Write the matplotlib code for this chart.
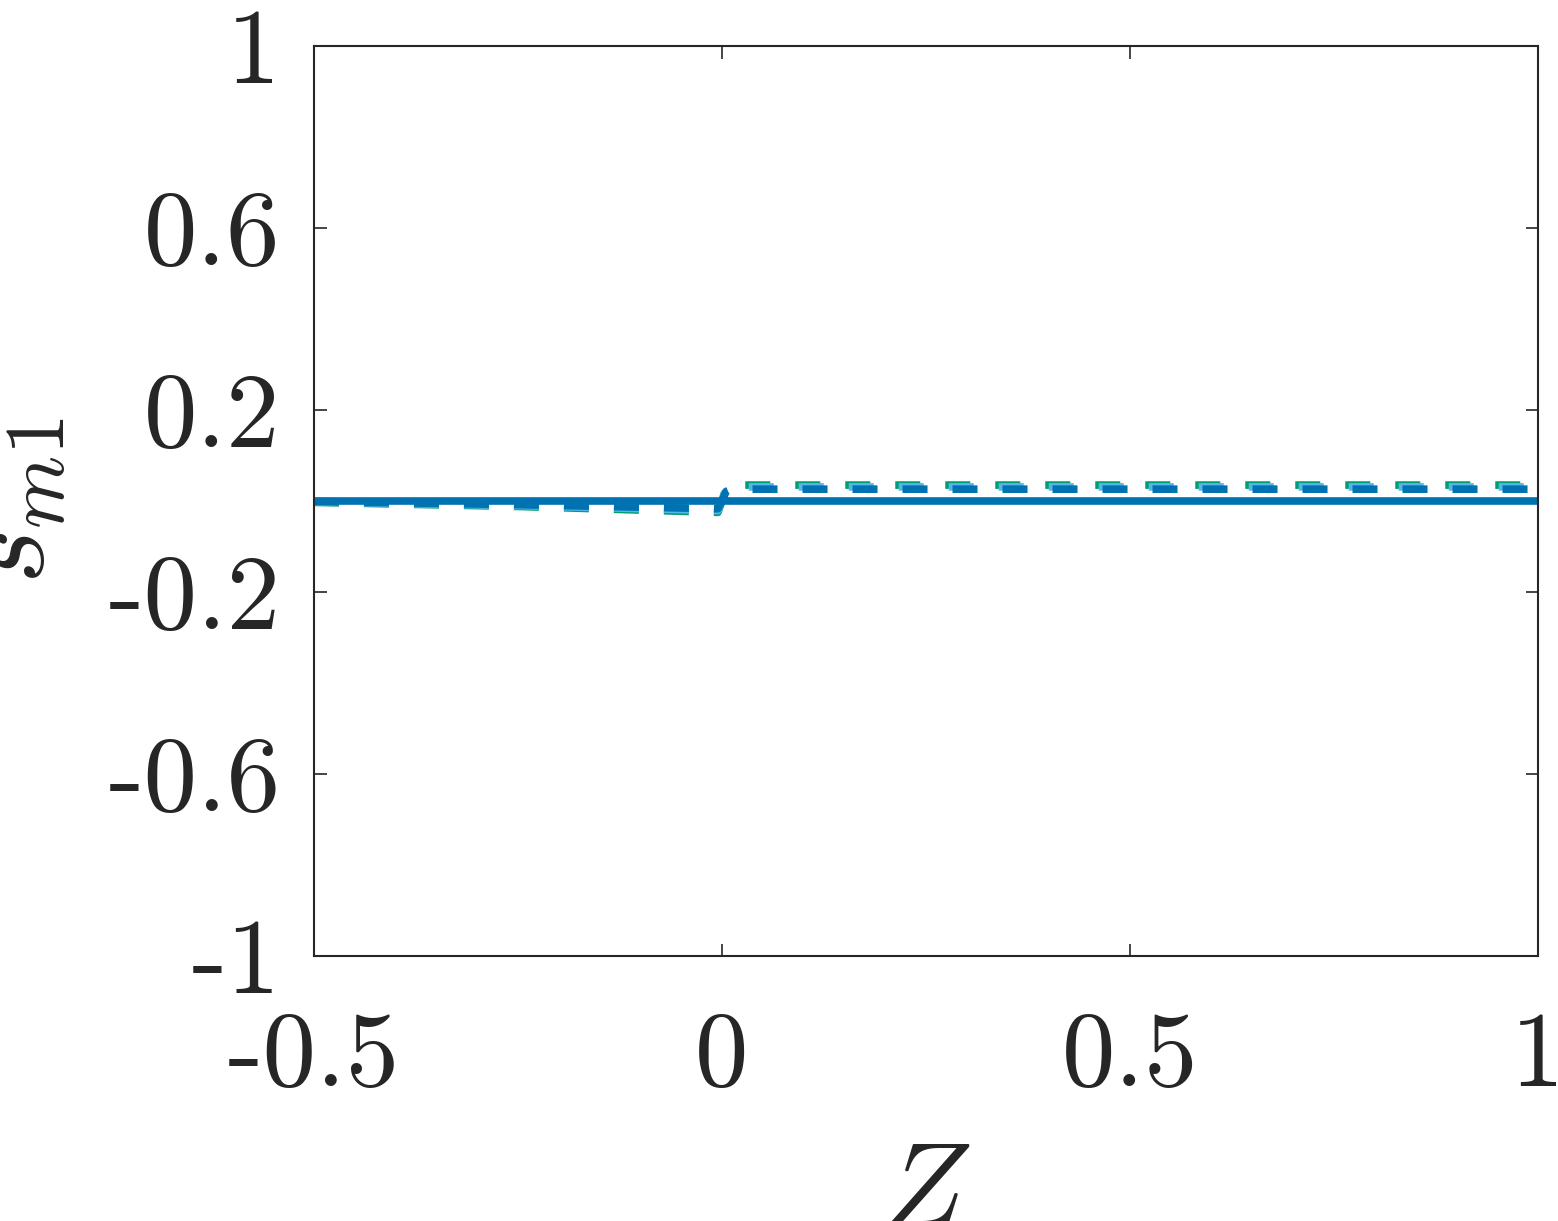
import numpy as np
import matplotlib
matplotlib.use("Agg")
import matplotlib.pyplot as plt

# data
z_solid = [-0.5, 1.0]
s_solid = [0.0, 0.0]

z_dash = [-0.5, -0.25, -0.005, 0.0, 0.005, 0.012, 0.5, 1.0]
s_green = [-0.003, -0.012, -0.025, 0.0, 0.030, 0.035, 0.035, 0.035]
s_light = [-0.002, -0.010, -0.021, 0.0, 0.026, 0.031, 0.031, 0.031]
s_dark = [-0.001, -0.008, -0.017, 0.0, 0.021, 0.026, 0.026, 0.026]

xticks = [-0.5, 0, 0.5, 1]
xticklabels = ['-0.5', '0', '0.5', '1']
yticks = [-1, -0.6, -0.2, 0.2, 0.6, 1]
yticklabels = ['-1', '-0.6', '-0.2', '0.2', '0.6', '1']

plt.rcParams['mathtext.fontset'] = 'cm'
plt.rcParams['lines.scale_dashes'] = False

fig = plt.figure(figsize=(15.58, 12.21), dpi=100)
ax = fig.add_axes([314/1558, 1-956/1221, (1538-314)/1558, (956-46)/1221])

ax.plot(z_dash, s_green, color='#009E73', lw=5.5, dashes=(18, 18), solid_capstyle='butt')
ax.plot(z_dash, s_light, color='#56B4E9', lw=5.5, dashes=(18, 18))
ax.plot(z_dash, s_dark, color='#0072B2', lw=5.5, dashes=(18, 18))
ax.plot(z_solid, s_solid, color='#0072B2', lw=5.5)

ax.set_xlim(-0.5, 1)
ax.set_ylim(-1, 1)
ax.set_xticks(xticks)
ax.set_xticklabels(xticklabels, family='cmr10', fontsize=77)
ax.set_yticks(yticks)
ax.set_yticklabels(yticklabels, family='cmr10', fontsize=77)
ax.tick_params(direction='in', length=9, width=1.2, color='#262626',
               top=True, right=True, labelcolor='#262626')
ax.tick_params(axis='x', pad=40)
ax.tick_params(axis='y', pad=24)
for sp in ax.spines.values():
    sp.set_color('#262626')
    sp.set_linewidth(1.5)

ax.set_xlabel(r'$Z$', fontsize=86, color='#262626')
ax.set_ylabel(r'$s_{m1}$', fontsize=86, color='#262626')
ax.xaxis.set_label_coords(0.5, -0.197)
ax.yaxis.set_label_coords(-0.2, 0.5)

fig.savefig('out.png', dpi=100)
